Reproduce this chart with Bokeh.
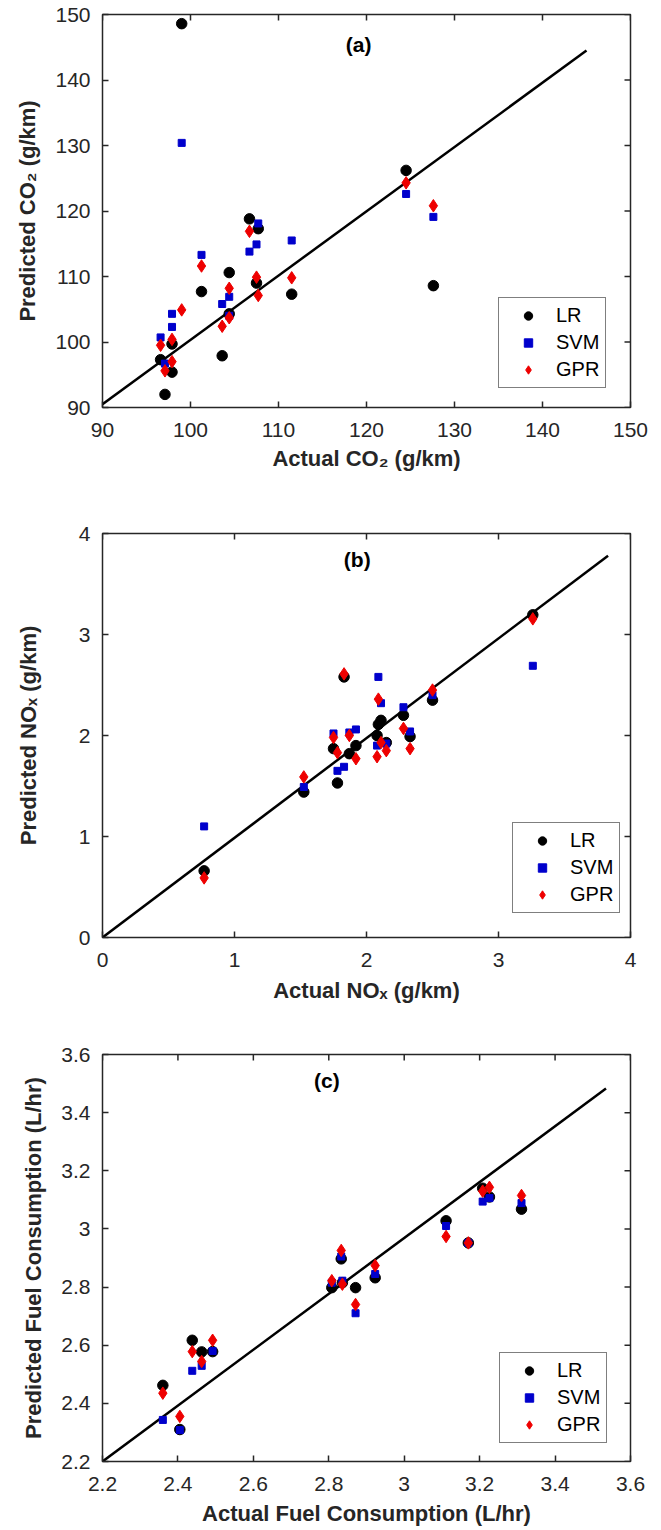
import math
from bokeh.plotting import figure
from bokeh.layouts import column
from bokeh.models import FixedTicker, Range1d, Legend, LegendItem
from bokeh.core.properties import value
from bokeh.embed import file_html
from bokeh.resources import INLINE

FONT = "Liberation Sans"
TXT = "#262626"
C_LR, C_SVM, C_GPR = "#000000", "#0000cc", "#ee0000"

# ---------------- data: panel (a) CO2 ----------------
co2_actual = [96.6, 97.1, 97.9, 97.9, 99.0, 101.25, 103.6, 104.4, 104.4, 106.7, 107.5, 107.7, 111.5, 124.5, 127.6]
co2_lr     = [97.3, 92.0, 99.7, 95.4, 148.6, 107.7, 97.9, 110.6, 104.3, 118.8, 109.0, 117.3, 107.3, 126.2, 108.6]
co2_svm    = [100.7, 96.7, 102.3, 104.3, 130.4, 113.3, 105.8, 106.9, 104.0, 113.8, 114.9, 118.1, 115.5, 122.6, 119.1]
co2_gpr    = [99.5, 95.6, 100.4, 97.0, 104.9, 111.6, 102.4, 108.2, 103.7, 116.9, 109.9, 107.1, 109.8, 124.3, 120.8]
co2_line_x = [90, 145]
co2_line_y = [90.5, 144.5]
co2_ticks = [90, 100, 110, 120, 130, 140, 150]
co2_tick_labels = ["90", "100", "110", "120", "130", "140", "150"]

# ---------------- data: panel (b) NOx ----------------
nox_actual = [0.77, 1.525, 1.75, 1.78, 1.83, 1.87, 1.92, 2.08, 2.09, 2.11, 2.15, 2.28, 2.33, 2.50, 3.26]
nox_lr     = [0.66, 1.44, 1.87, 1.53, 2.58, 1.82, 1.90, 2.00, 2.11, 2.15, 1.93, 2.20, 1.99, 2.35, 3.195]
nox_svm    = [1.10, 1.49, 2.02, 1.65, 1.69, 2.03, 2.06, 1.90, 2.58, 2.32, 1.92, 2.28, 2.04, 2.40, 2.69]
nox_gpr    = [0.59, 1.59, 1.98, 1.83, 2.61, 2.00, 1.77, 1.79, 2.36, 1.93, 1.85, 2.07, 1.87, 2.45, 3.155]
nox_line_x = [0, 3.83]
nox_line_y = [0, 3.78]
nox_ticks = [0, 1, 2, 3, 4]
nox_tick_labels = ["0", "1", "2", "3", "4"]

# ---------------- data: panel (c) Fuel ----------------
fuel_actual = [2.36, 2.405, 2.438, 2.463, 2.492, 2.808, 2.833, 2.836, 2.871, 2.923, 3.111, 3.170, 3.208, 3.226, 3.311]
fuel_lr     = [2.462, 2.31, 2.617, 2.577, 2.578, 2.798, 2.897, 2.815, 2.798, 2.832, 3.028, 2.952, 3.140, 3.110, 3.068]
fuel_svm    = [2.343, 2.308, 2.512, 2.529, 2.580, 2.815, 2.905, 2.822, 2.710, 2.845, 3.010, 2.952, 3.094, 3.106, 3.089]
fuel_gpr    = [2.435, 2.355, 2.578, 2.544, 2.617, 2.822, 2.926, 2.810, 2.740, 2.874, 2.974, 2.952, 3.130, 3.143, 3.115]
fuel_line_x = [2.2, 3.535]
fuel_line_y = [2.2, 3.483]
fuel_ticks = [2.2, 2.4, 2.6, 2.8, 3.0, 3.2, 3.4, 3.6]
fuel_tick_labels = ["2.2", "2.4", "2.6", "2.8", "3", "3.2", "3.4", "3.6"]

models = ["LR", "SVM", "GPR"]


def style_axis(ax, ticks, labels, tick_standoff, lab_standoff):
    ax.ticker = FixedTicker(ticks=ticks)
    ax.major_label_overrides = {t: l for t, l in zip(ticks, labels)}
    ax.axis_line_color = None
    ax.major_tick_in = 6
    ax.major_tick_out = 0
    ax.major_tick_line_color = TXT
    ax.major_tick_line_width = 1.5
    ax.minor_tick_line_color = None
    ax.major_label_text_font = FONT
    ax.major_label_text_color = TXT
    ax.major_label_text_font_size = "21px"
    ax.major_label_standoff = tick_standoff
    ax.axis_label_text_font = FONT
    ax.axis_label_text_font_style = "bold"
    ax.axis_label_text_font_size = "22px"
    ax.axis_label_text_color = TXT
    ax.axis_label_standoff = lab_standoff


def make_panel(actual, lr, svm, gpr, lx, ly, rng, ticks, tick_labels,
               xlabel, ylabel, tag, tag_xy, geom, ylab_standoff, xlab_standoff, leg_xy):
    W, H, bl, br, bt, bb = geom
    p = figure(width=W, height=H,
               min_border_left=bl, min_border_right=br,
               min_border_top=bt, min_border_bottom=bb,
               x_range=Range1d(*rng), y_range=Range1d(*rng),
               output_backend="svg", toolbar_location=None, tools="")
    p.grid.visible = False
    p.outline_line_color = TXT
    p.outline_line_width = 1.5
    p.background_fill_color = "white"
    p.border_fill_color = "white"

    style_axis(p.xaxis[0], ticks, tick_labels, 15, xlab_standoff)
    style_axis(p.yaxis[0], ticks, tick_labels, 12, ylab_standoff)
    p.xaxis[0].axis_label = xlabel
    p.yaxis[0].axis_label = ylabel

    # inward ticks on the top and right edges (box style); outer half is clipped by the frame
    n = len(ticks)
    p.scatter(ticks, [rng[1]] * n, marker="dash", size=12, angle=math.pi / 2,
              line_color=TXT, line_width=1.5)
    p.scatter([rng[1]] * n, ticks, marker="dash", size=12,
              line_color=TXT, line_width=1.5)

    p.line(lx, ly, line_color="black", line_width=2.5)
    r1 = p.scatter(actual, lr, marker="circle", size=10.5, fill_color=C_LR, line_color=C_LR)
    r2 = p.scatter(actual, svm, marker="square", size=7, fill_color=C_SVM, line_color=C_SVM)
    r3 = p.scatter(actual, gpr, marker="diamond", size=12.5, fill_color=C_GPR, line_color=C_GPR)

    p.text(x=[tag_xy[0]], y=[tag_xy[1]], text=[tag], text_font=value(FONT),
           text_font_style="bold", text_font_size="21px", text_color="black",
           text_align="center", text_baseline="middle")

    legend = Legend(items=[LegendItem(label=models[0], renderers=[r1]),
                           LegendItem(label=models[1], renderers=[r2]),
                           LegendItem(label=models[2], renderers=[r3])],
                    location=leg_xy, padding=6, spacing=4,
                    glyph_width=46, glyph_height=21, label_height=21,
                    label_standoff=5, label_text_font=FONT,
                    label_text_font_size="20px", label_text_color="black",
                    border_line_color="black", border_line_width=1.5,
                    background_fill_color="white", background_fill_alpha=1.0)
    p.add_layout(legend)
    return p


# geom = (width, height, border_left, border_right, border_top, border_bottom)
pa = make_panel(co2_actual, co2_lr, co2_svm, co2_gpr, co2_line_x, co2_line_y,
                (90, 150), co2_ticks, co2_tick_labels,
                "Actual CO\u2082 (g/km)", "Predicted CO\u2082 (g/km)",
                "(a)", (119.1, 145.4), (655, 520, 102, 25, 14, 113), 12, 6, (396, 19))
pb = make_panel(nox_actual, nox_lr, nox_svm, nox_gpr, nox_line_x, nox_line_y,
                (0, 4), nox_ticks, nox_tick_labels,
                "Actual NO\u2093 (g/km)", "Predicted NO\u2093 (g/km)",
                "(b)", (1.93, 3.74), (655, 520, 93, 19, 13, 103), 35, 8, (410, 24))
pc = make_panel(fuel_actual, fuel_lr, fuel_svm, fuel_gpr, fuel_line_x, fuel_line_y,
                (2.2, 3.6), fuel_ticks, fuel_tick_labels,
                "Actual Fuel Consumption (L/hr)", "Predicted Fuel Consumption (L/hr)",
                "(c)", (2.795, 3.511), (655, 490, 98, 23, 14, 69), 12, 7, (397, 18))

layout = column(pa, pb, pc, spacing=0)
open("out.html", "w").write(file_html(layout, INLINE))
